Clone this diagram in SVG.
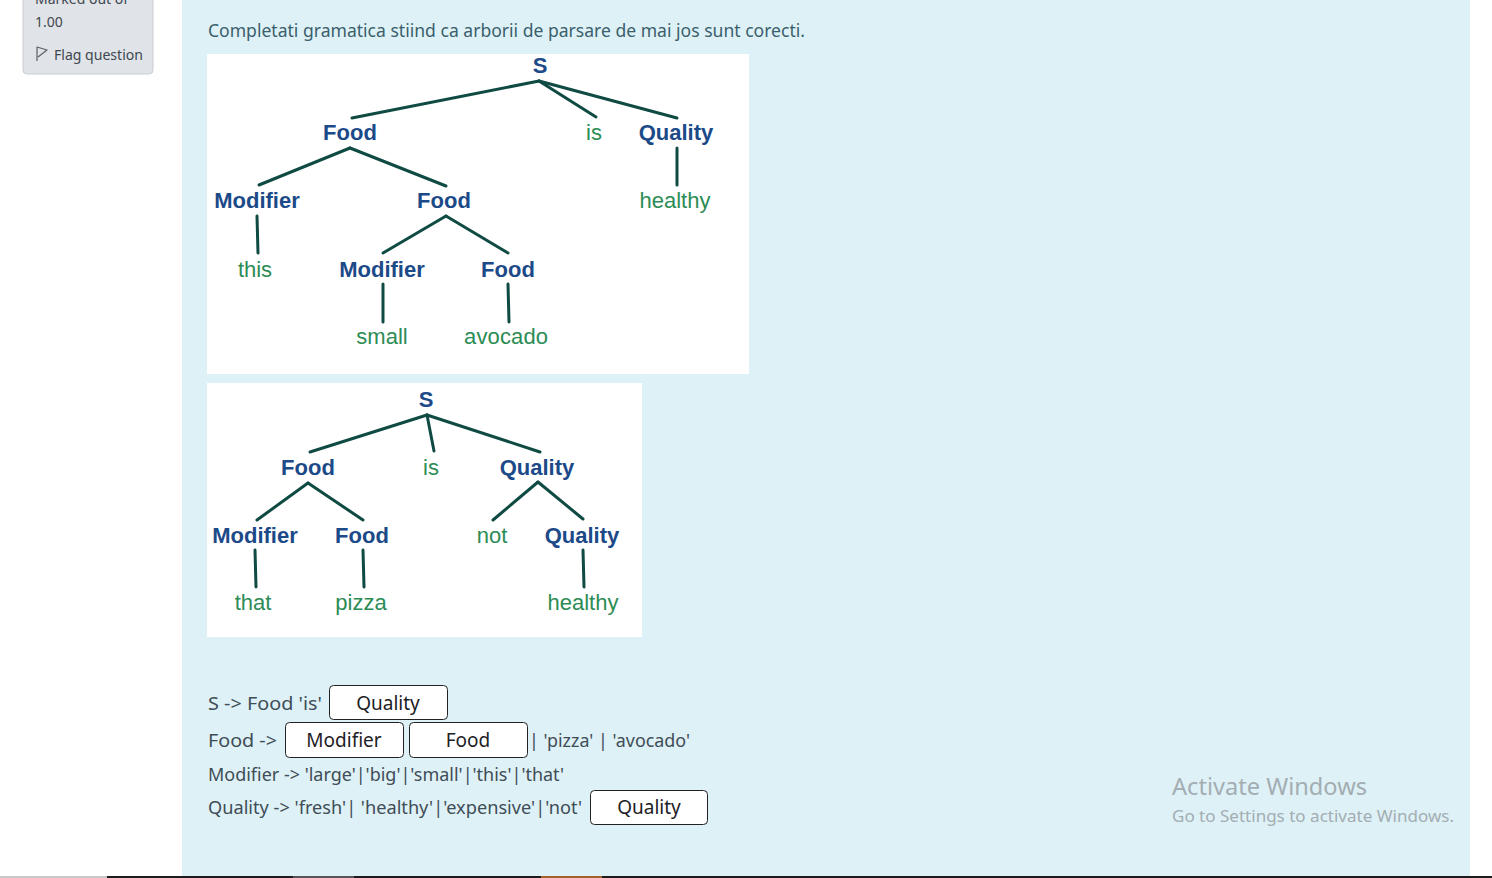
<svg xmlns="http://www.w3.org/2000/svg" width="1492" height="878" viewBox="0 0 1492 878">
<style>
.nt{font-family:"Liberation Sans",Arial,sans-serif;font-size:22px;font-weight:bold;fill:#1c4a88;text-anchor:middle}
.lf{font-family:"Liberation Sans",Arial,sans-serif;font-size:22px;fill:#2c8c55;text-anchor:middle}
.ln{stroke:#0f4a43;stroke-width:3;stroke-linecap:round;fill:none}
.ui{font-family:"Noto Sans","Open Sans",sans-serif;font-size:18px;fill:#3f4d56}
.bx{fill:#ffffff;stroke:#222;stroke-width:1}
.bt{font-family:"Noto Sans","Open Sans",sans-serif;font-size:19px;fill:#1d2125;text-anchor:middle}
.sb{font-family:"Noto Sans","Open Sans",sans-serif;font-size:14px;fill:#3f4850}
.aw{font-family:"Noto Sans","Open Sans",sans-serif;fill:#a3adb2}
</style>
<rect width="1492" height="878" fill="#ffffff"/>
<!-- panel -->
<rect x="182" y="0" width="1288" height="876" fill="#def1f7"/>
<!-- sidebar -->
<g id="sidebar">
<rect x="23" y="-10" width="130" height="84" rx="4" fill="#e0e3e7" stroke="#c9cdd1"/>
<text class="sb" x="35" y="4">Marked out of</text>
<text class="sb" x="35" y="27">1.00</text>
<path d="M37 61 L37 47 L47 50 L38 57" fill="none" stroke="#5a6168" stroke-width="1.2" stroke-linejoin="round"/>
<text class="sb" x="54" y="60" textLength="89" lengthAdjust="spacingAndGlyphs">Flag question</text>
</g>
<text class="ui" x="208" y="37" textLength="597" lengthAdjust="spacingAndGlyphs" style="fill:#3b5f6c">Completati gramatica stiind ca arborii de parsare de mai jos sunt corecti.</text>
<!-- tree 1 -->
<rect x="207" y="54" width="542" height="320" fill="#ffffff"/>
<g id="tree1-edges">
<line class="ln" x1="539" y1="81" x2="352" y2="118"/>
<line class="ln" x1="539" y1="81" x2="596" y2="117"/>
<line class="ln" x1="539" y1="81" x2="677" y2="118"/>
<line class="ln" x1="350" y1="148" x2="259" y2="185"/>
<line class="ln" x1="350" y1="148" x2="446" y2="186"/>
<line class="ln" x1="677" y1="148" x2="677" y2="185"/>
<line class="ln" x1="257" y1="216" x2="258" y2="253"/>
<line class="ln" x1="446" y1="216" x2="383" y2="253"/>
<line class="ln" x1="446" y1="216" x2="508" y2="253"/>
<line class="ln" x1="383" y1="284" x2="383" y2="322"/>
<line class="ln" x1="508" y1="284" x2="509" y2="322"/>
</g>
<g id="t1-S"><text class="nt" x="540" y="73">S</text></g>
<g id="t1-Food"><text class="nt" x="350" y="140">Food</text></g>
<g id="t1-is"><text class="lf" x="594" y="140">is</text></g>
<g id="t1-Quality"><text class="nt" x="676" y="140">Quality</text></g>
<g id="t1-Modifier"><text class="nt" x="257" y="208">Modifier</text></g>
<g id="t1-Food2"><text class="nt" x="444" y="208">Food</text></g>
<g id="t1-healthy"><text class="lf" x="675" y="208">healthy</text></g>
<g id="t1-this"><text class="lf" x="255" y="277">this</text></g>
<g id="t1-Modifier2"><text class="nt" x="382" y="277">Modifier</text></g>
<g id="t1-Food3"><text class="nt" x="508" y="277">Food</text></g>
<g id="t1-small"><text class="lf" x="382" y="344">small</text></g>
<g id="t1-avocado"><text class="lf" x="506" y="344" textLength="84" lengthAdjust="spacing">avocado</text></g>
<!-- tree 2 -->
<rect x="207" y="383" width="435" height="254" fill="#ffffff"/>
<g id="tree2-edges">
<line class="ln" x1="427" y1="415" x2="310" y2="452"/>
<line class="ln" x1="427" y1="415" x2="434" y2="451"/>
<line class="ln" x1="427" y1="415" x2="540" y2="452"/>
<line class="ln" x1="308" y1="483" x2="257" y2="520"/>
<line class="ln" x1="308" y1="483" x2="363" y2="520"/>
<line class="ln" x1="538" y1="482" x2="493" y2="520"/>
<line class="ln" x1="538" y1="482" x2="583" y2="519"/>
<line class="ln" x1="255" y1="550" x2="256" y2="587"/>
<line class="ln" x1="363" y1="550" x2="364" y2="587"/>
<line class="ln" x1="583" y1="550" x2="584" y2="587"/>
</g>
<g id="t2-S"><text class="nt" x="426" y="407">S</text></g>
<g id="t2-Food"><text class="nt" x="308" y="475">Food</text></g>
<g id="t2-is"><text class="lf" x="431" y="475">is</text></g>
<g id="t2-Quality"><text class="nt" x="537" y="475">Quality</text></g>
<g id="t2-Modifier"><text class="nt" x="255" y="543">Modifier</text></g>
<g id="t2-Food2"><text class="nt" x="362" y="543">Food</text></g>
<g id="t2-not"><text class="lf" x="492" y="543">not</text></g>
<g id="t2-Quality2"><text class="nt" x="582" y="543">Quality</text></g>
<g id="t2-that"><text class="lf" x="253" y="610">that</text></g>
<g id="t2-pizza"><text class="lf" x="361" y="610">pizza</text></g>
<g id="t2-healthy"><text class="lf" x="583" y="610">healthy</text></g>
<!-- grammar -->
<g id="grammar">
<text class="ui" x="208" y="710" textLength="114" lengthAdjust="spacingAndGlyphs">S -&gt; Food 'is'</text>
<rect class="bx" x="329.5" y="685.5" width="118" height="34" rx="4"/>
<text class="bt" x="388" y="710">Quality</text>
<text class="ui" x="208" y="747" textLength="69" lengthAdjust="spacingAndGlyphs">Food -&gt;</text>
<rect class="bx" x="285.5" y="722.5" width="118" height="35" rx="4"/>
<text class="bt" x="344" y="747">Modifier</text>
<rect class="bx" x="409.5" y="722.5" width="118" height="35" rx="4"/>
<text class="bt" x="468" y="747">Food</text>
<text class="ui" x="529" y="747" textLength="161" lengthAdjust="spacingAndGlyphs">| 'pizza' | 'avocado'</text>
<text class="ui" x="208" y="781" textLength="356" lengthAdjust="spacingAndGlyphs">Modifier -&gt; 'large'|'big'|'small'|'this'|'that'</text>
<text class="ui" x="208" y="814" textLength="374" lengthAdjust="spacingAndGlyphs">Quality -&gt; 'fresh'| 'healthy'|'expensive'|'not'</text>
<rect class="bx" x="590.5" y="790.5" width="117" height="34" rx="4"/>
<text class="bt" x="649" y="814">Quality</text>
</g>
<!-- watermark -->
<text class="aw" x="1172" y="795" font-size="24" textLength="195" lengthAdjust="spacingAndGlyphs">Activate Windows</text>
<text class="aw" x="1172" y="822" font-size="17" textLength="282" lengthAdjust="spacingAndGlyphs">Go to Settings to activate Windows.</text>
<!-- bottom bar -->
<rect x="0" y="876" width="107" height="2" fill="#c8c8c8"/>
<rect x="107" y="876" width="1385" height="2" fill="#1c1c1c"/>
<rect x="293" y="876" width="61" height="2" fill="#555555"/>
<rect x="541" y="876" width="61" height="2" fill="#a3622b"/>
</svg>
